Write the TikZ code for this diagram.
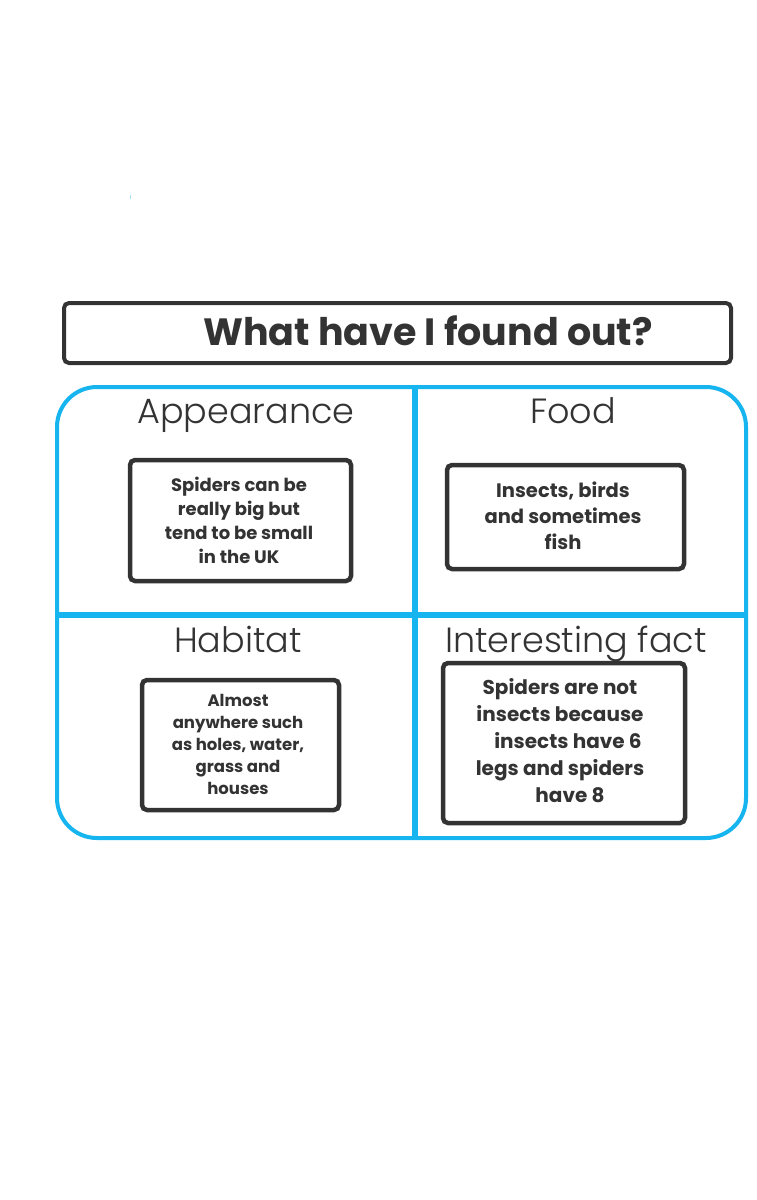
\documentclass[tikz,border=0pt]{standalone}
\usepackage{fontspec}
\setmainfont{Poppins}
\newfontfamily\titlefont{Poppins Bold}
\newfontfamily\bodyfont{Poppins Bold}
\newfontfamily\headfont{Poppins Light}
\definecolor{ink}{HTML}{333333}
\definecolor{sky}{HTML}{16B5EF}
\begin{document}
\begin{tikzpicture}[x=1pt,y=-1pt,
  darkbox/.style={draw=ink,line width=4.5pt,rounded corners=5pt},
  heading/.style={anchor=base,text=ink,font=\headfont\fontsize{35}{40}\selectfont,inner sep=0pt},
  bodytext/.style={text=ink,align=center,inner sep=0pt},
  divider/.style={draw=sky,line width=5.5pt},
]
\useasboundingbox[fill=white] (0,0) rectangle (757,1200);
% tiny speck
\fill[sky!40] (129.5,195) rectangle (130.5,199);
% title
\draw[darkbox,line width=4pt] (64,303) rectangle (731,363);
\node[text=ink,font=\titlefont\fontsize{38}{44}\selectfont,anchor=base,inner sep=0pt] (title) at (428,345) {What have I found out?};
% blue frame
\draw[draw=sky,line width=4pt,rounded corners=40pt] (57,387) rectangle (746,838);
\coordinate (vtop) at (415,387);
\coordinate (vbot) at (415,838);
\coordinate (hleft) at (57,615);
\coordinate (hright) at (746,615);
\draw[divider] (vtop) -- (vbot);
\draw[divider] (hleft) -- (hright);
% headings
\node[heading] (h1) at (246,423) {Appearance};
\node[heading] (h2) at (573,423) {Food};
\node[heading] (h3) at (238,652) {Habitat};
\node[heading] (h4) at (576,652) {Interesting fact};
% boxes
\draw[darkbox] (130,460) rectangle (351,581);
\node[bodytext,font=\bodyfont\fontsize{18}{24}\selectfont] (t1) at (239,520) {Spiders can be\\really big but\\tend to be small\\in the UK};
\draw[darkbox] (447,465) rectangle (684,569);
\node[bodytext,font=\bodyfont\fontsize{19.5}{26}\selectfont] (t2) at (563,516) {Insects, birds\\and sometimes\\fish};
\draw[darkbox] (142,680) rectangle (339,810);
\node[bodytext,font=\bodyfont\fontsize{16.5}{22}\selectfont] (t3) at (238,744) {Almost\\anywhere such\\as holes, water,\\grass and\\houses};
\draw[darkbox] (443,663) rectangle (685,823);
\node[bodytext,font=\bodyfont\fontsize{20}{27}\selectfont] (t4) at (560,741) {Spiders are not\\insects because\\\hspace*{16pt}insects have 6\\legs and spiders\\\hspace*{20pt}have 8};
\end{tikzpicture}
\end{document}
